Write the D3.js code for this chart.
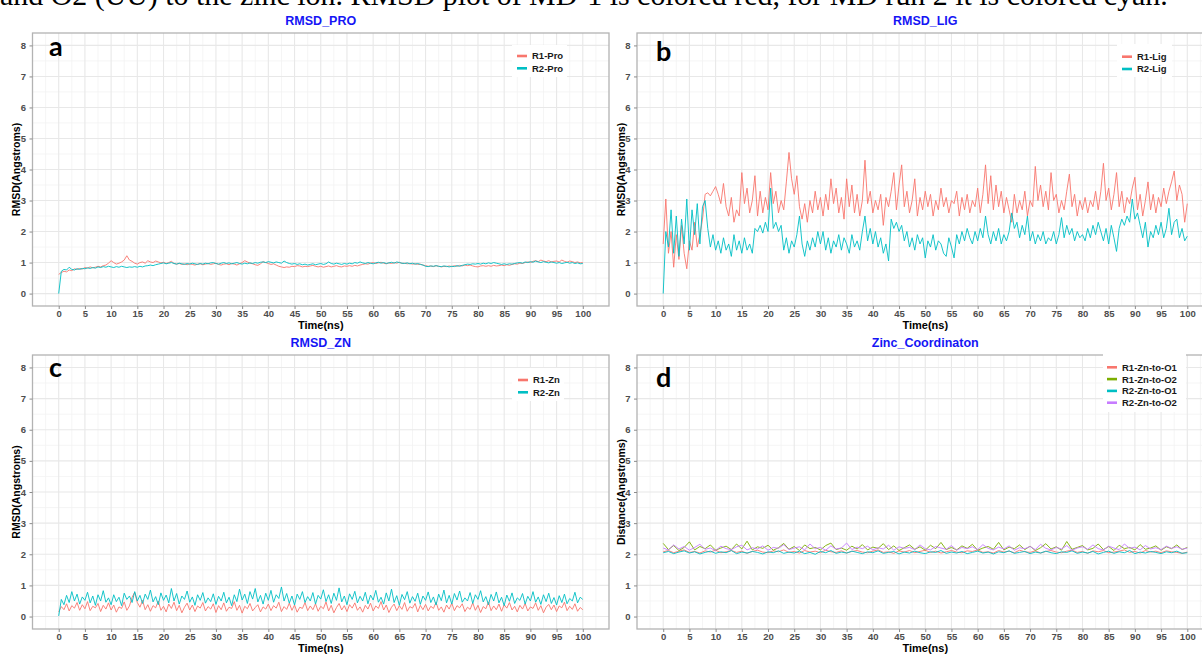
<!DOCTYPE html>
<html><head><meta charset="utf-8">
<script src="https://cdn.jsdelivr.net/npm/d3@7"></script>
<style>
html,body{margin:0;padding:0;background:#fff;}
svg{display:block;}
</style></head>
<body><svg id="c" width="1202" height="655"></svg>
<script>
// ---------- data ----------
const timeFine = d3.range(0, 100.5, 0.5);   // 0..100 ns, 0.5 ns step
const timeCoarse = d3.range(0, 101, 1);     // 0..100 ns, 1 ns step
const xTicks = d3.range(0, 101, 5);
const yTicks = [0, 1, 2, 3, 4, 5, 6, 7, 8];

const proR1 = [0.62,0.68,0.72,0.70,0.76,0.74,0.80,0.78,0.81,0.79,0.84,0.82,0.86,0.83,0.85,0.88,0.86,0.90,0.92,0.98,
1.06,1.0,0.95,0.98,1.02,1.08,1.22,1.08,1.04,0.98,0.95,1.0,1.02,0.98,1.06,1.02,1.0,1.05,1.02,0.99,
1.01,0.97,1.0,1.04,0.97,0.95,0.97,0.94,0.96,0.93,0.96,0.94,0.92,0.95,0.96,0.93,0.95,0.97,0.94,0.96,
0.98,0.94,0.92,0.95,0.96,0.93,0.97,0.95,0.92,0.96,1.0,1.06,1.02,0.98,0.96,0.93,0.91,0.96,1.03,1.0,
0.97,0.94,0.96,0.92,0.88,0.86,0.84,0.86,0.85,0.88,0.87,0.9,0.89,0.86,0.88,0.87,0.89,0.91,0.88,0.86,
0.88,0.85,0.87,0.89,0.86,0.88,0.9,0.87,0.86,0.89,0.88,0.9,0.88,0.91,0.89,0.92,0.94,0.96,0.95,0.98,
1.0,0.97,0.99,1.01,0.98,0.96,0.99,0.97,1.0,0.98,1.01,0.97,0.98,0.96,0.97,0.95,0.96,0.94,0.95,0.92,
0.9,0.88,0.89,0.87,0.9,0.88,0.86,0.88,0.87,0.89,0.87,0.9,0.88,0.91,0.89,0.92,0.9,0.92,0.89,0.87,
0.86,0.89,0.9,0.88,0.9,0.88,0.91,0.89,0.9,0.92,0.9,0.93,0.91,0.94,0.96,0.95,0.98,0.97,1.0,1.02,
1.0,1.04,1.06,1.03,1.08,1.05,1.03,1.06,1.02,1.04,1.05,1.02,1.08,1.04,1.01,1.05,1.03,1.0,1.02,0.99,
1.0];
const proR2 = [0.0,0.72,0.78,0.76,0.85,0.78,0.76,0.8,0.78,0.81,0.8,0.83,0.81,0.84,0.82,0.86,0.84,0.87,0.85,0.88,
0.86,0.84,0.87,0.85,0.88,0.86,0.84,0.86,0.85,0.87,0.85,0.88,0.86,0.89,0.9,0.92,0.9,0.93,0.95,0.97,
0.99,0.96,0.98,1.0,0.97,0.95,0.98,0.96,0.94,0.97,0.95,0.98,0.96,0.94,0.97,0.95,0.98,0.96,0.99,1.0,
0.97,0.95,0.98,1.0,0.97,0.99,0.96,0.98,1.0,0.97,0.95,0.98,0.96,0.99,0.97,1.0,0.98,1.01,1.02,1.0,
1.03,1.01,0.99,1.02,1.0,0.98,1.05,1.0,0.97,0.95,0.97,0.94,0.96,0.93,0.95,0.92,0.94,0.96,0.93,0.95,
0.97,0.94,0.96,1.02,0.97,0.95,0.98,0.96,0.94,0.97,0.95,0.98,0.96,1.0,0.98,1.02,0.99,0.97,1.0,0.98,
0.96,0.99,1.01,0.98,1.0,0.97,0.99,1.01,0.98,1.02,1.0,0.98,0.97,0.99,0.96,0.98,0.95,0.97,0.94,0.92,
0.88,0.87,0.89,0.88,0.9,0.88,0.87,0.89,0.88,0.86,0.88,0.87,0.9,0.88,0.91,0.93,0.95,0.94,0.96,0.95,
0.97,0.95,0.98,0.96,0.99,0.97,1.0,0.98,0.96,0.94,0.96,0.94,0.96,0.95,0.97,0.99,1.0,0.98,1.02,1.0,
1.03,1.01,1.05,1.02,1.0,1.03,1.01,0.99,1.02,1.0,0.98,1.0,0.97,0.99,1.01,0.98,1.0,0.97,0.99,0.96,
0.97];

const ligR1 = [1.6,3.05,1.3,2.0,0.85,1.9,1.1,2.2,1.3,0.8,
1.7,1.4,2.3,1.5,1.9,2.4,3.2,3.25,3.15,3.3,
3.45,3.2,2.9,3.55,2.8,2.5,3.1,2.3,2.7,2.5,
3.9,2.9,3.4,2.6,3.0,3.8,2.5,3.3,2.6,3.1,
2.7,3.9,2.9,3.3,2.6,3.0,2.7,3.6,4.55,3.7,
3.2,3.8,2.8,2.4,2.9,2.3,3.0,2.6,3.3,2.7,
3.1,2.5,3.2,2.7,3.7,2.9,3.4,2.6,3.1,2.4,
3.7,2.8,3.5,2.6,3.2,2.5,3.0,4.3,2.9,3.3,
2.6,3.0,2.7,3.2,2.2,3.1,2.8,3.3,3.9,2.7,
3.5,4.15,2.8,3.3,2.6,3.0,3.7,2.5,3.1,2.7,
3.3,2.8,3.2,2.5,3.0,2.7,3.4,2.8,3.1,2.6,
3.0,2.9,3.3,2.5,3.1,2.7,3.2,2.6,3.0,2.8,
3.4,2.6,3.2,4.15,2.9,3.8,2.7,3.5,2.8,3.3,
2.6,3.1,2.7,2.3,3.2,2.6,3.0,2.7,3.3,2.5,
3.0,2.8,4.1,3.0,3.5,2.8,3.3,2.7,3.9,3.0,
3.2,2.6,3.0,2.7,3.3,3.85,2.8,3.2,2.5,3.0,
2.7,3.1,2.6,3.0,2.8,3.3,2.7,3.3,4.2,3.0,
3.4,2.7,3.2,3.9,2.8,3.3,2.6,3.1,2.9,3.4,
3.75,2.7,3.2,2.5,3.0,3.6,2.7,3.2,2.6,3.1,
2.8,3.4,2.9,3.3,3.6,3.95,3.0,3.5,3.2,2.3,
2.9];
const ligR2 = [0.0,2.0,1.5,2.7,1.3,2.5,1.2,2.4,1.6,3.05,
1.4,2.7,1.9,2.9,1.6,2.8,3.0,2.1,1.5,1.9,
1.4,1.7,1.3,1.8,1.4,1.6,1.2,1.9,1.4,1.7,
1.3,1.8,1.4,1.6,1.3,2.1,2.0,2.2,1.95,2.3,
2.0,3.4,2.1,2.3,2.0,2.2,1.4,1.8,1.3,1.7,
1.5,1.9,2.5,1.6,1.2,1.7,1.4,1.8,1.5,2.0,
1.6,2.0,1.4,1.8,1.3,1.7,1.5,1.9,1.4,1.8,
1.6,1.3,1.9,1.5,1.7,1.4,2.0,2.5,1.7,2.1,
1.6,2.0,1.5,1.8,1.3,1.6,1.05,2.4,2.1,2.3,
2.0,2.2,1.7,2.0,1.5,1.8,1.4,1.9,1.6,1.8,
1.15,1.7,1.5,1.9,1.4,1.7,1.6,1.3,1.2,1.8,
1.5,1.15,1.9,1.6,2.0,1.7,2.1,1.8,1.6,2.0,
1.7,2.1,1.8,2.5,1.9,1.6,2.0,1.7,2.1,1.6,
1.9,1.7,2.0,2.6,2.1,2.3,1.8,2.2,1.9,2.5,
1.7,2.0,1.6,1.9,1.7,2.0,1.6,1.8,1.7,2.0,
1.6,1.9,2.45,1.8,2.2,1.9,2.1,1.7,2.0,1.8,
1.9,1.7,2.1,1.8,2.2,1.9,2.3,2.0,1.7,2.1,
1.6,2.2,1.8,1.36,2.1,2.4,2.2,2.5,2.3,3.05,
2.4,2.6,2.2,1.8,2.3,1.5,2.0,1.8,2.2,1.9,
2.3,1.8,2.1,2.75,1.9,2.3,2.4,1.8,2.1,1.7,
1.85];

const znR1 = [0.15,0.32,0.22,0.41,0.18,0.35,0.27,0.45,0.2,0.38,0.25,0.48,0.19,0.33,0.28,0.42,0.16,0.36,0.24,0.44,
0.21,0.37,0.14,0.31,0.26,0.47,0.2,0.34,0.62,0.78,0.45,0.3,0.52,0.22,0.38,0.17,0.35,0.28,0.5,0.2,
0.33,0.15,0.4,0.26,0.46,0.19,0.36,0.12,0.3,0.43,0.21,0.37,0.16,0.34,0.27,0.45,0.18,0.32,0.24,0.41,
0.13,0.35,0.22,0.44,0.17,0.3,0.26,0.48,0.2,0.36,0.11,0.33,0.25,0.42,0.18,0.29,0.38,0.15,0.31,0.24,
0.4,0.19,0.35,0.27,0.46,0.16,0.32,0.23,0.43,0.2,0.37,0.14,0.3,0.26,0.45,0.19,0.34,0.22,0.41,0.17,
0.33,0.25,0.47,0.18,0.36,0.12,0.29,0.42,0.21,0.35,0.16,0.38,0.27,0.44,0.2,0.31,0.14,0.36,0.24,0.43,
0.18,0.34,0.26,0.48,0.21,0.37,0.13,0.3,0.4,0.19,0.35,0.23,0.45,0.17,0.32,0.27,0.42,0.15,0.36,0.22,
0.39,0.18,0.33,0.26,0.46,0.2,0.31,0.14,0.37,0.24,0.43,0.19,0.35,0.28,0.41,0.16,0.3,0.23,0.44,0.2,
0.36,0.13,0.32,0.25,0.47,0.19,0.34,0.22,0.4,0.17,0.38,0.27,0.45,0.21,0.33,0.15,0.36,0.24,0.42,0.18,
0.31,0.26,0.44,0.2,0.35,0.12,0.3,0.39,0.22,0.37,0.16,0.34,0.28,0.46,0.19,0.33,0.23,0.41,0.17,0.29,
0.22];
const znR2 = [0.02,0.55,0.38,0.68,0.45,0.8,0.5,0.72,0.4,0.63,0.52,0.78,0.44,0.66,0.36,0.7,0.5,0.83,0.46,0.6,
0.38,0.7,0.48,0.62,0.35,0.75,0.55,0.66,0.45,0.8,0.5,0.68,0.42,0.72,0.55,0.85,0.47,0.64,0.38,0.76,
0.52,0.69,0.44,0.9,0.5,0.74,0.4,0.66,0.55,0.82,0.46,0.63,0.36,0.7,0.52,0.77,0.43,0.6,0.48,0.73,
0.39,0.65,0.5,0.78,0.44,0.62,0.35,0.7,0.48,0.88,0.53,0.72,0.42,0.8,0.56,0.9,0.47,0.68,0.4,0.75,
0.52,0.84,0.46,0.7,0.58,0.95,0.5,0.74,0.43,0.66,0.37,0.72,0.55,0.8,0.45,0.64,0.5,0.77,0.4,0.68,
0.56,0.86,0.48,0.7,0.42,0.75,0.52,0.92,0.47,0.66,0.38,0.73,0.55,0.81,0.44,0.65,0.5,0.78,0.41,0.69,
0.53,0.84,0.46,0.62,0.4,0.76,0.5,0.88,0.45,0.67,0.36,0.71,0.54,0.8,0.43,0.64,0.49,0.75,0.39,0.66,
0.52,0.79,0.45,0.63,0.37,0.72,0.51,0.85,0.44,0.68,0.4,0.74,0.53,0.82,0.46,0.6,0.5,0.77,0.42,0.7,
0.55,0.83,0.47,0.64,0.38,0.71,0.5,0.79,0.44,0.62,0.35,0.69,0.49,0.76,0.42,0.6,0.52,0.74,0.4,0.65,
0.5,0.8,0.46,0.63,0.39,0.7,0.48,0.75,0.42,0.61,0.37,0.67,0.45,0.72,0.41,0.58,0.5,0.78,0.44,0.62,
0.55];

const r1ZnO1 = [2.08,2.12,2.05,2.1,2.14,2.06,2.09,2.04,2.11,2.07,2.13,2.05,2.08,2.12,2.06,2.1,2.03,2.09,2.13,2.07,
2.05,2.11,2.08,2.14,2.06,2.09,2.04,2.12,2.07,2.1,2.05,2.13,2.08,2.06,2.11,2.04,2.09,2.12,2.07,2.05,
2.1,2.14,2.06,2.08,2.03,2.11,2.07,2.12,2.05,2.09,2.13,2.06,2.1,2.04,2.08,2.12,2.07,2.05,2.11,2.09,
2.14,2.06,2.08,2.04,2.12,2.07,2.1,2.05,2.13,2.08,2.06,2.11,2.04,2.09,2.12,2.07,2.05,2.1,2.13,2.06,
2.09,2.03,2.11,2.08,2.12,2.05,2.07,2.1,2.14,2.06,2.09,2.04,2.12,2.07,2.1,2.05,2.11,2.08,2.06,2.03,
2.07];
const r1ZnO2 = [2.35,2.15,2.28,2.12,2.22,2.4,2.14,2.25,2.18,2.3,2.13,2.2,2.26,2.15,2.33,2.17,2.42,2.14,2.24,2.19,
2.29,2.13,2.21,2.35,2.16,2.25,2.12,2.3,2.18,2.22,2.14,2.28,2.36,2.15,2.2,2.13,2.26,2.17,2.31,2.14,
2.23,2.19,2.34,2.15,2.27,2.12,2.21,2.3,2.16,2.24,2.13,2.29,2.18,2.38,2.15,2.22,2.14,2.27,2.19,2.32,
2.13,2.2,2.25,2.16,2.38,2.14,2.23,2.18,2.3,2.15,2.26,2.12,2.21,2.34,2.17,2.24,2.13,2.41,2.16,2.22,
2.28,2.14,2.19,2.33,2.15,2.25,2.12,2.29,2.18,2.22,2.14,2.31,2.16,2.2,2.27,2.13,2.24,2.18,2.3,2.15,
2.22];
const r2ZnO1 = [2.05,2.09,2.02,2.07,2.11,2.04,2.08,2.01,2.06,2.1,2.03,2.08,2.05,2.12,2.02,2.07,2.04,2.09,2.06,2.01,
2.08,2.05,2.11,2.03,2.07,2.04,2.1,2.02,2.06,2.0,2.09,2.05,2.12,2.03,2.07,2.04,2.1,2.06,2.02,2.08,
2.05,2.11,2.03,2.06,2.09,2.01,2.07,2.04,2.1,2.05,2.02,2.08,2.06,2.12,2.03,2.07,2.04,2.09,2.02,2.06,
2.1,2.04,2.07,2.01,2.08,2.05,2.11,2.03,2.06,2.09,2.02,2.07,2.04,2.1,2.05,2.02,2.08,2.06,2.11,2.03,
2.07,2.04,2.09,2.01,2.06,2.1,2.03,2.08,2.05,2.12,2.02,2.07,2.04,2.09,2.06,2.02,2.08,2.05,2.1,2.03,
2.05];
const r2ZnO2 = [2.2,2.14,2.3,2.17,2.25,2.13,2.22,2.32,2.16,2.2,2.12,2.26,2.18,2.15,2.24,2.29,2.14,2.21,2.17,2.27,
2.13,2.22,2.19,2.31,2.15,2.2,2.24,2.14,2.33,2.18,2.22,2.13,2.27,2.17,2.2,2.36,2.15,2.23,2.18,2.26,
2.14,2.21,2.17,2.29,2.13,2.24,2.19,2.22,2.15,2.3,2.18,2.14,2.25,2.2,2.16,2.28,2.13,2.22,2.18,2.24,
2.15,2.31,2.19,2.14,2.23,2.17,2.27,2.13,2.21,2.18,2.25,2.15,2.32,2.19,2.14,2.22,2.17,2.28,2.13,2.2,
2.24,2.16,2.3,2.18,2.14,2.26,2.2,2.15,2.33,2.19,2.23,2.14,2.28,2.17,2.21,2.15,2.26,2.19,2.24,2.16,
2.2];

const captionText = "and O2 (UU) to the zinc ion. RMSD plot of MD-1 is colored red, for MD run 2 it is colored cyan.";

// ---------- drawing ----------
const svg = d3.select("#c");
svg.append("rect").attr("width", 1202).attr("height", 655).attr("fill", "#fff");

const C_RED = "#F8766D", C_GREEN = "#7CAE00", C_CYAN = "#00BFC4", C_PURPLE = "#C77CFF";
const AXFONT = "'Liberation Sans', Arial, sans-serif";

const xMinor = d3.range(-2.5, 105, 5);
const yMinor = d3.range(0.5, 8, 1);

function drawPanel(cfg) {
  const g = svg.append("g");
  const x = d3.scaleLinear().domain([-5, 105]).range([cfg.x0, cfg.x1]);
  const y = d3.scaleLinear().domain([-0.4, 8.4]).range([cfg.y1, cfg.y0]);
  const xr0 = cfg.x0, xr1 = Math.min(cfg.x1, 1202);

  // grid
  g.selectAll(".gxm").data(xMinor).join("line")
    .attr("x1", d => x(d)).attr("x2", d => x(d)).attr("y1", cfg.y0).attr("y2", cfg.y1)
    .attr("stroke", "#F2F2F2").attr("stroke-width", 0.8);
  g.selectAll(".gym").data(yMinor).join("line")
    .attr("x1", xr0).attr("x2", xr1).attr("y1", d => y(d)).attr("y2", d => y(d))
    .attr("stroke", "#F2F2F2").attr("stroke-width", 0.8);
  g.selectAll(".gx").data(xTicks).join("line")
    .attr("x1", d => x(d)).attr("x2", d => x(d)).attr("y1", cfg.y0).attr("y2", cfg.y1)
    .attr("stroke", "#E8E8E8").attr("stroke-width", 1.1);
  g.selectAll(".gy").data(yTicks).join("line")
    .attr("x1", xr0).attr("x2", xr1).attr("y1", d => y(d)).attr("y2", d => y(d))
    .attr("stroke", "#E8E8E8").attr("stroke-width", 1.1);

  // series
  const line = d3.line().x(d => x(d[0])).y(d => y(d[1]));
  cfg.series.forEach(s => {
    g.append("path").datum(d3.zip(s.time, s.values))
      .attr("d", line).attr("fill", "none")
      .attr("stroke", s.color).attr("stroke-width", 1)
      .attr("stroke-opacity", 0.9).attr("stroke-linejoin", "round");
  });

  // border
  g.append("rect").attr("x", cfg.x0).attr("y", cfg.y0)
    .attr("width", cfg.x1 - cfg.x0).attr("height", cfg.y1 - cfg.y0)
    .attr("fill", "none").attr("stroke", "#B3B3B3").attr("stroke-width", 1.3);

  // axes
  const xa = g.append("g").attr("transform", `translate(0,${cfg.y1})`)
    .call(d3.axisBottom(x).tickValues(xTicks).tickSize(3).tickPadding(1.5).tickSizeOuter(0));
  const ya = g.append("g").attr("transform", `translate(${cfg.x0},0)`)
    .call(d3.axisLeft(y).tickValues(yTicks).tickSize(3).tickPadding(3.5).tickSizeOuter(0));
  [xa, ya].forEach(a => {
    a.select(".domain").remove();
    a.selectAll(".tick line").attr("stroke", "#8C8C8C");
    a.selectAll(".tick text").attr("fill", "#4D4D4D")
      .style("font-family", AXFONT).style("font-weight", "bold").style("font-size", "9.5px");
  });

  // axis titles
  g.append("text").attr("x", (cfg.x0 + cfg.x1v) / 2).attr("y", cfg.y1 + 23)
    .attr("text-anchor", "middle").attr("fill", "#000")
    .style("font-family", AXFONT).style("font-weight", "bold").style("font-size", "11px")
    .text("Time(ns)");
  g.append("text")
    .attr("transform", `translate(${cfg.x0 - 12.5},${(cfg.y0 + cfg.y1) / 2}) rotate(-90)`)
    .attr("text-anchor", "middle").attr("fill", "#000")
    .style("font-family", AXFONT).style("font-weight", "bold").style("font-size", "10.5px")
    .text(cfg.ylabel);

  // title
  g.append("text").attr("x", (cfg.x0 + cfg.x1) / 2).attr("y", cfg.y0 - 8)
    .attr("text-anchor", "middle").attr("fill", "#1515F5")
    .style("font-family", AXFONT).style("font-weight", "bold").style("font-size", "12.5px")
    .text(cfg.title);

  // legend
  const L = cfg.legend;
  g.append("rect").attr("x", L.bx).attr("y", L.by).attr("width", L.bw).attr("height", L.bh).attr("fill", "#fff");
  cfg.series.forEach((s, i) => {
    const yy = L.y + i * L.step;
    g.append("line").attr("x1", L.kx).attr("x2", L.kx + 10).attr("y1", yy).attr("y2", yy)
      .attr("stroke", s.color).attr("stroke-width", 2.6);
    g.append("text").attr("x", L.kx + 15).attr("y", yy + 3.4).attr("fill", "#1a1a1a")
      .style("font-family", AXFONT).style("font-weight", "bold").style("font-size", "9.5px")
      .text(s.name);
  });

  // panel letter
  g.append("text").attr("x", cfg.letter.x).attr("y", cfg.letter.y).attr("fill", "#000")
    .style("font-family", "Lato, 'Open Sans', sans-serif").style("font-weight", "bold").style("font-size", "27px")
    .text(cfg.letter.t);
}

drawPanel({
  x0: 32.5, x1: 609, x1v: 609, y0: 33, y1: 306,
  title: "RMSD_PRO", ylabel: "RMSD(Angstroms)",
  series: [
    { name: "R1-Pro", time: timeFine, values: proR1, color: C_RED },
    { name: "R2-Pro", time: timeFine, values: proR2, color: C_CYAN }
  ],
  legend: { bx: 512, by: 45, bw: 55, bh: 32, kx: 517, y: 56, step: 12.3 },
  letter: { t: "a", x: 49, y: 56 }
});
drawPanel({
  x0: 637, x1: 1213.5, x1v: 1213.5, y0: 33, y1: 306,
  title: "RMSD_LIG", ylabel: "RMSD(Angstroms)",
  series: [
    { name: "R1-Lig", time: timeFine, values: ligR1, color: C_RED },
    { name: "R2-Lig", time: timeFine, values: ligR2, color: C_CYAN }
  ],
  legend: { bx: 1117, by: 44, bw: 55, bh: 33, kx: 1122, y: 56.7, step: 12.3 },
  letter: { t: "b", x: 656, y: 61 }
});
drawPanel({
  x0: 32.5, x1: 609, x1v: 609, y0: 355, y1: 629,
  title: "RMSD_ZN", ylabel: "RMSD(Angstroms)",
  series: [
    { name: "R1-Zn", time: timeFine, values: znR1, color: C_RED },
    { name: "R2-Zn", time: timeFine, values: znR2, color: C_CYAN }
  ],
  legend: { bx: 512, by: 368, bw: 52, bh: 33, kx: 518, y: 380, step: 12.3 },
  letter: { t: "c", x: 49, y: 377 }
});
drawPanel({
  x0: 637, x1: 1213.5, x1v: 1213.5, y0: 355, y1: 629,
  title: "Zinc_Coordinaton", ylabel: "Distance(Angstroms)",
  series: [
    { name: "R1-Zn-to-O1", time: timeCoarse, values: r1ZnO1, color: C_RED },
    { name: "R1-Zn-to-O2", time: timeCoarse, values: r1ZnO2, color: C_GREEN },
    { name: "R2-Zn-to-O1", time: timeCoarse, values: r2ZnO1, color: C_CYAN },
    { name: "R2-Zn-to-O2", time: timeCoarse, values: r2ZnO2, color: C_PURPLE }
  ],
  legend: { bx: 1103, by: 350, bw: 83, bh: 62, kx: 1107, y: 367.3, step: 11.8 },
  letter: { t: "d", x: 656, y: 387 }
});

// caption line cut at the top
const cap = svg.append("text").attr("x", 0).attr("y", 5)
  .attr("fill", "#000")
  .style("font-family", "'Liberation Serif', 'Times New Roman', serif").style("font-size", "24px")
  .text(captionText);
const len = cap.node().getComputedTextLength();
cap.style("font-size", (24 * 1168 / len) + "px");
</script>
</body></html>
